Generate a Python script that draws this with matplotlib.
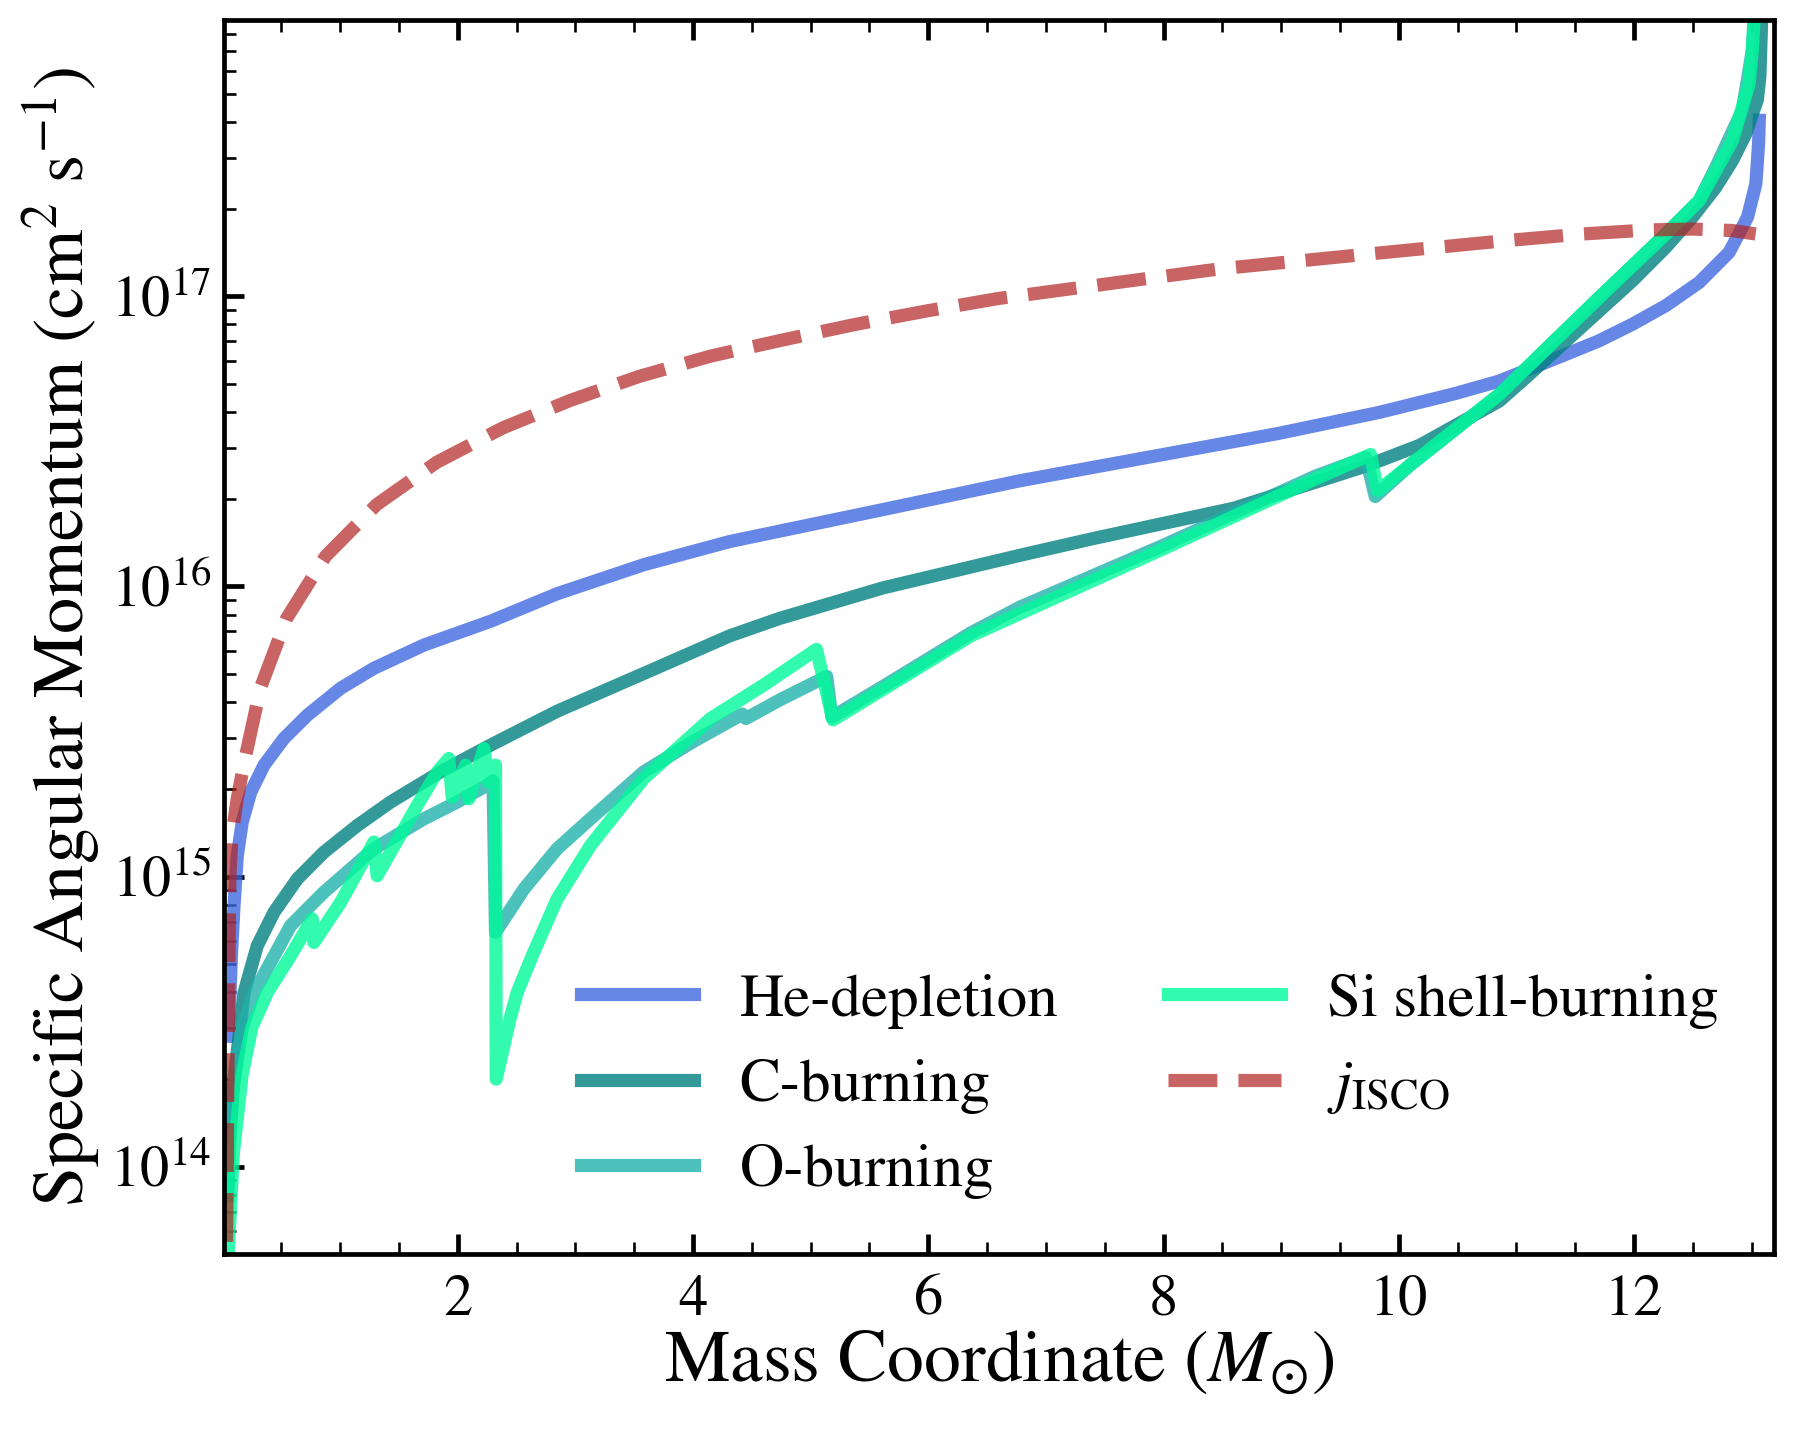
import matplotlib
matplotlib.use("Agg")
import matplotlib.pyplot as plt
import numpy as np
from matplotlib.ticker import MultipleLocator

plt.rcParams['font.family'] = 'STIXGeneral'
plt.rcParams['mathtext.fontset'] = 'stix'

# mass coordinate (Msun) and log10 of specific angular momentum (cm^2 s^-1)
he_m = [0.045, 0.06, 0.075, 0.098, 0.126, 0.168, 0.24, 0.353, 0.522, 0.721,
        1.004, 1.287, 1.712, 2.278, 2.845, 3.581, 4.313, 5.614, 6.775, 7.46,
        8.97, 9.834, 10.48, 10.854, 11.137, 11.42, 11.704, 11.987, 12.27, 12.554,
        12.809, 12.965, 13.036, 13.059, 13.065]
he_logj = [14.45, 14.55, 14.72, 14.90, 15.073, 15.188, 15.291, 15.384, 15.476, 15.556,
           15.649, 15.718, 15.798, 15.88, 15.975, 16.075, 16.155, 16.265, 16.364, 16.415,
           16.527, 16.60, 16.665, 16.708, 16.754, 16.80, 16.847, 16.904, 16.968, 17.048,
           17.152, 17.273, 17.388, 17.526, 17.607]

c_m = [0.045, 0.054, 0.093, 0.183, 0.296, 0.438, 0.636, 0.862, 1.146, 1.429,
       1.853, 2.278, 2.845, 3.581, 4.313, 4.737, 5.614, 6.775, 7.4, 8.6,
       9.72, 10.18, 10.854, 11.08, 11.704, 11.987, 12.27, 12.497, 12.695, 12.837,
       12.95, 13.007, 13.048, 13.07, 13.085]
c_logj = [13.9, 14.05, 14.28, 14.60, 14.762, 14.877, 14.992, 15.084, 15.176, 15.257,
          15.361, 15.453, 15.57, 15.70, 15.83, 15.89, 15.995, 16.107, 16.165, 16.27,
          16.415, 16.487, 16.639, 16.72, 16.95, 17.054, 17.169, 17.273, 17.376, 17.468,
          17.56, 17.63, 17.676, 17.757, 17.95]

o_m = [0.045, 0.074, 0.17, 0.268, 0.579, 0.862, 1.287, 1.712, 1.995, 2.25,
       2.30, 2.321, 2.562, 2.845, 3.128, 3.581, 4.0, 4.42, 4.45, 4.747,
       5.137, 5.18, 5.614, 6.362, 6.775, 7.988, 9.289, 9.72, 9.80, 10.10,
       10.854, 11.704, 12.27, 12.554, 12.695, 12.92, 13.006, 13.04]
o_logj = [13.9, 14.233, 14.48, 14.60, 14.831, 14.946, 15.096, 15.199, 15.257, 15.315,
          15.33, 14.808, 14.957, 15.096, 15.199, 15.361, 15.465, 15.56, 15.545, 15.611,
          15.69, 15.55, 15.655, 15.84, 15.928, 16.14, 16.38, 16.445, 16.31, 16.42,
          16.662, 16.996, 17.215, 17.33, 17.445, 17.641, 17.849, 18.1]

si_m = [0.035, 0.093, 0.168, 0.25, 0.381, 0.579, 0.763, 0.777, 1.004, 1.287,
        1.315, 1.655, 1.825, 1.924, 1.953, 2.066, 2.094, 2.222, 2.264, 2.321,
        2.327, 2.444, 2.505, 2.634, 2.845, 3.128, 3.581, 4.15, 4.6, 5.05,
        5.19, 5.614, 6.362, 7.988, 9.289, 9.76, 9.82, 10.10, 10.854, 11.704,
        12.27, 12.554, 12.837, 12.979, 13.006, 13.04]
si_logj = [13.6, 14.05, 14.32, 14.48, 14.60, 14.727, 14.854, 14.773, 14.911, 15.119,
           15.003, 15.245, 15.36, 15.407, 15.274, 15.384, 15.268, 15.441, 15.326, 15.384,
           14.302, 14.509, 14.60, 14.728, 14.923, 15.107, 15.338, 15.545, 15.66, 15.783,
           15.54, 15.645, 15.83, 16.128, 16.37, 16.455, 16.33, 16.42, 16.662, 16.996,
           17.215, 17.33, 17.537, 17.733, 17.849, 18.1]

isco_m = [0.03, 0.04, 0.05, 0.058, 0.064, 0.083, 0.126, 0.188, 0.324, 0.545,
          0.876, 1.31, 1.821, 2.385, 2.961, 3.542, 4.149, 4.755, 5.363, 5.99,
          6.585, 7.65, 8.48, 9.72, 10.854, 11.56, 12.13, 12.5, 12.835, 13.034]
isco_logj = [13.5, 14.0, 14.5, 14.85, 15.02, 15.15, 15.27, 15.40, 15.652, 15.89,
             16.104, 16.282, 16.428, 16.547, 16.642, 16.724, 16.794, 16.849, 16.902, 16.95,
             16.992, 17.05, 17.095, 17.145, 17.19, 17.215, 17.229, 17.232, 17.227, 17.215]

fig = plt.figure(figsize=(17.95, 14.35), dpi=100)
ax = fig.add_axes([0.1248, 0.1261, 0.8635, 0.8603])

lw = 9.5
ax.plot(he_m, 10**np.array(he_logj), color='royalblue', alpha=0.8, lw=lw, label='He-depletion')
ax.plot(c_m, 10**np.array(c_logj), color='teal', alpha=0.8, lw=lw, label='C-burning')
ax.plot(o_m, 10**np.array(o_logj), color='lightseagreen', alpha=0.8, lw=lw, label='O-burning')
ax.plot(si_m, 10**np.array(si_logj), color='mediumspringgreen', alpha=0.8, lw=lw,
        label='Si shell-burning')
ax.plot(isco_m, 10**np.array(isco_logj), '--', color='firebrick', alpha=0.7, lw=lw,
        label=r'$j_{\rm ISCO}$')

ax.set_yscale('log')
ax.set_xlim(0.013, 13.19)
ax.set_ylim(5e13, 9e17)
ax.xaxis.set_major_locator(MultipleLocator(2))
ax.xaxis.set_minor_locator(MultipleLocator(0.5))

ax.tick_params(which='both', direction='in', top=True, right=False, left=True, bottom=True)
ax.tick_params(which='major', length=14.4, width=3.4, labelsize=42)
ax.tick_params(axis='x', which='major', pad=15)
ax.tick_params(axis='y', which='major', pad=9)
ax.tick_params(which='minor', length=8.4, width=1.9)
for s in ax.spines.values():
    s.set_linewidth(3.4)

ax.set_xlabel(r'Mass Coordinate ($M_{\odot}$)', fontsize=53, labelpad=0)
ax.set_ylabel(r'Specific Angular Momentum (cm$^2$ s$^{-1}$)', fontsize=52, labelpad=5)

ax.legend(loc='lower right', ncol=2, frameon=False, fontsize=44,
          handlelength=1.85, handletextpad=0.75, columnspacing=1.8, labelspacing=0.48)

fig.savefig('out.png', dpi=100)
